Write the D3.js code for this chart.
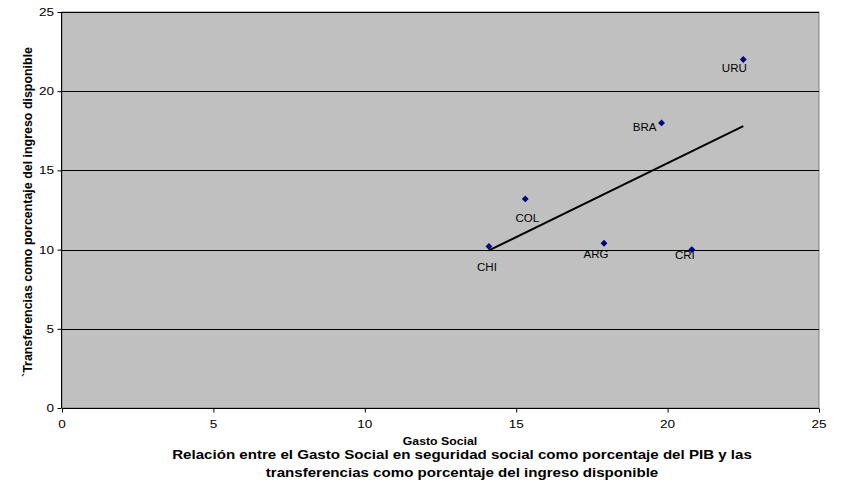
<!DOCTYPE html>
<html><head><meta charset="utf-8">
<script src="https://cdn.jsdelivr.net/npm/d3@7"></script>
<style>body{margin:0;background:#fff;} svg{display:block;font-family:"Liberation Sans",Arial,sans-serif;}</style>
</head><body>
<svg id="c" width="844" height="485"></svg>
<script>
const countries = ["URU","BRA","COL","CHI","ARG","CRI"];
const gastoSocial = [22.5,19.8,15.3,14.1,17.9,20.8];
const transferencias = [22.0,18.0,13.2,10.2,10.4,10.0];
const xTicks = [0,5,10,15,20,25];
const yTicks = [0,5,10,15,20,25];

const svg = d3.select("#c");
const m = {l:62, t:12, r:819, b:408};
const SX = 1.23; // horizontal text stretch seen in the reference
const x = d3.scaleLinear().domain([0,25]).range([m.l, m.r]);
const y = d3.scaleLinear().domain([0,25]).range([m.b, m.t]);

function txt(px,py,str,size,weight,anchor,sx){
  return svg.append("text").attr("transform",`translate(${px},${py}) scale(${sx},1)`)
    .attr("text-anchor",anchor).attr("font-size",size+"px").attr("font-weight",weight)
    .attr("fill","#000").text(str);
}

svg.append("rect").attr("x",m.l).attr("y",m.t).attr("width",m.r-m.l).attr("height",m.b-m.t)
  .attr("fill","#c0c0c0").attr("stroke","#808080").attr("stroke-width",1);

// gridlines
svg.append("g").selectAll("line").data(yTicks.filter(d=>d>0)).join("line")
  .attr("x1",m.l).attr("x2",m.r).attr("y1",d=>Math.round(y(d))+0.5).attr("y2",d=>Math.round(y(d))+0.5)
  .attr("stroke","#000").attr("stroke-width",1);

// axes (lines + ticks)
const xa = svg.append("g").attr("transform",`translate(0,${m.b+0.5})`)
  .call(d3.axisBottom(x).tickValues(xTicks).tickSize(4).tickFormat(""));
const ya = svg.append("g").attr("transform",`translate(${m.l-0.5},0)`)
  .call(d3.axisLeft(y).tickValues(yTicks).tickSize(4).tickFormat(""));
[xa,ya].forEach(a=>{ a.selectAll("path,line").attr("stroke","#000"); });
xa.select(".domain").attr("d",`M${m.l},0H${m.r}`);
ya.select(".domain").attr("d",`M0,${m.t}V${m.b}`);

// tick labels
xTicks.forEach(t=>txt(x(t),428,d3.format("d")(t),11,"normal","middle",SX));
yTicks.forEach(t=>txt(m.l-8,y(t)+4,d3.format("d")(t),11,"normal","end",SX));

// regression trend line
const n = gastoSocial.length;
const mx = d3.mean(gastoSocial), my = d3.mean(transferencias);
let sxy=0,sxx=0;
for(let i=0;i<n;i++){sxy+=(gastoSocial[i]-mx)*(transferencias[i]-my);sxx+=(gastoSocial[i]-mx)**2;}
const slope = sxy/sxx, icpt = my - slope*mx;
const xmin = d3.min(gastoSocial), xmax = d3.max(gastoSocial);
svg.append("line").attr("x1",x(xmin)).attr("y1",y(slope*xmin+icpt))
  .attr("x2",x(xmax)).attr("y2",y(slope*xmax+icpt))
  .attr("stroke","#000").attr("stroke-width",2);

// points
const pts = countries.map((c,i)=>({c, gx:gastoSocial[i], ty:transferencias[i]}));
svg.append("g").selectAll("path").data(pts).join("path")
  .attr("d", d3.symbol().type(d3.symbolDiamond2).size(30)())
  .attr("transform",d=>`translate(${x(d.gx)},${y(d.ty)})`)
  .attr("fill","#000080");

// labels (manual offsets as in the original)
const labelOffset = {URU:[-9,12],BRA:[-17,8],COL:[2,23],CHI:[-2,25],ARG:[-8,15],CRI:[-7,9]};
pts.forEach(d=>txt(x(d.gx)+labelOffset[d.c][0], y(d.ty)+labelOffset[d.c][1], d.c, 11, "normal","middle",1.05));

// titles
svg.append("text").attr("transform","translate(32,212) rotate(-90)").attr("text-anchor","middle")
  .attr("font-size","12px").attr("font-weight","bold")
  .attr("textLength",330).attr("lengthAdjust","spacingAndGlyphs")
  .text("`Transferencias como porcentaje del ingreso disponible");
txt(440,445,"Gasto Social",10,"bold","middle",SX);
txt(462,458.5,"Relación entre el Gasto Social en seguridad social como porcentaje del PIB y las",12,"bold","middle",1.26);
txt(462,477,"transferencias como porcentaje del ingreso disponible",12,"bold","middle",1.26);
</script>
</body></html>
